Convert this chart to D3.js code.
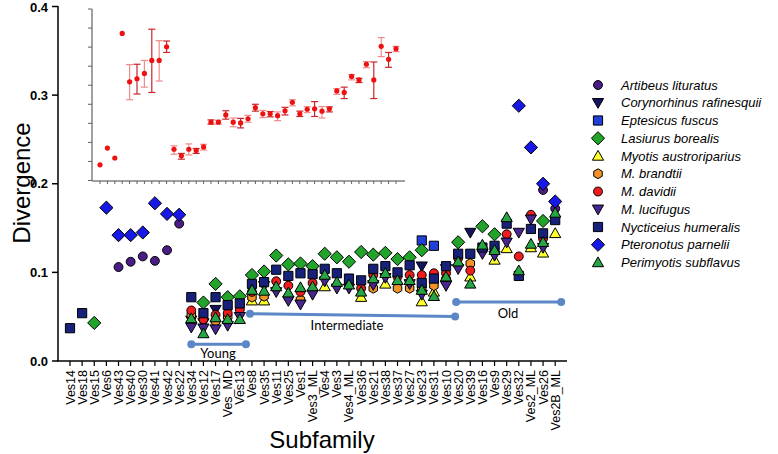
<!DOCTYPE html>
<html><head><meta charset="utf-8">
<script src="https://cdn.jsdelivr.net/npm/d3@7"></script>
<style>body{margin:0;background:#fff}svg{display:block}</style>
</head><body>
<svg id="c" width="778" height="454"></svg>
<script>
const _ = null;
const categories = ["Ves14","Ves18","Ves15","Ves6","Ves43","Ves40","Ves30","Ves41","Ves42","Ves22","Ves34","Ves12","Ves17","Ves_MD","Ves13","Ves8","Ves35","Ves11","Ves25","Ves1","Ves3_ML","Ves4","Ves3","Ves4_ML","Ves36","Ves21","Ves38","Ves37","Ves27","Ves23","Ves31","Ves10","Ves20","Ves39","Ves16","Ves9","Ves29","Ves32","Ves2_ML","Ves26","Ves2B_ML"];
//                 0   1   2   3   4     5     6     7     8     9     10    11    12    13    14    15    16    17    18    19    20    21    22    23    24    25    26    27    28    29    30    31    32    33    34    35    36    37    38    39    40
const artibeus   = [_,  _,  _,  _,  0.106,0.112,0.118,0.113,0.125,0.155,_,    _,    _,    _,    _,    _,    _,    _,    _,    _,    _,    _,    _,    _,    _,    _,    _,    _,    _,    _,    _,    _,    _,    _,    _,    _,    _,    _,    _,    0.193,0.172];
const corynorhinus=[_,  _,  _,  _,  _,    _,    _,    _,    _,    _,    0.046,0.043,0.058,_,    _,    _,    _,    _,    _,    _,    _,    _,    _,    _,    _,    _,    _,    _,    _,    0.107,_,    0.104,_,    0.145,_,    _,    _,    _,    _,    _,    _];
const eptesicus  = [_,  _,  _,  _,  _,    _,    _,    _,    _,    _,    _,    _,    _,    _,    _,    _,    _,    _,    _,    _,    _,    _,    _,    _,    _,    _,    _,    _,    _,    0.136,0.130,_,    _,    _,    _,    _,    _,    _,    _,    _,    _];
const lasiurus   = [_,  _,  0.043,_,_,    _,    _,    _,    _,    _,    _,    0.066,0.087,0.072,0.073,0.097,0.101,0.119,0.109,0.110,0.107,0.121,0.117,0.112,0.123,0.120,0.122,0.115,0.117,0.125,_,    _,    0.134,_,    0.152,0.143,_,    _,    _,    0.158,_];
const myotisA    = [_,  _,  _,  _,  _,    _,    _,    _,    _,    _,    _,    _,    _,    _,    _,    0.068,0.068,_,    _,    _,    _,    0.084,_,    _,    0.072,_,    0.087,_,    _,    0.067,0.078,_,    _,    0.095,_,    0.114,0.127,_,    0.128,0.122,0.144];
const brandtii   = [_,  _,  _,  _,  _,    _,    _,    _,    _,    _,    0.052,_,    0.045,0.050,_,    0.072,0.073,_,    0.072,0.069,_,    _,    _,    _,    _,    0.082,_,    0.082,0.082,0.082,0.085,0.092,_,    0.110,_,    _,    _,    _,    _,    _,    _];
const davidii    = [_,  _,  _,  _,  _,    _,    _,    _,    _,    _,    0.057,0.047,0.052,0.054,0.058,0.078,_,    0.090,0.085,0.078,0.088,_,    _,    0.088,0.082,0.097,_,    0.095,0.097,0.097,0.099,0.099,0.116,0.102,0.125,0.127,0.143,0.118,0.165,0.138,_];
const lucifugus  = [_,  _,  _,  _,  _,    _,    _,    _,    _,    _,    0.038,0.037,0.036,0.040,0.050,_,    0.085,0.078,0.068,0.064,0.075,0.090,0.082,0.082,_,    0.086,0.094,_,    0.087,0.075,_,    0.085,0.104,_,    0.121,0.119,0.134,0.145,0.160,0.128,_];
const nycticeius = [0.037,0.054,_,_,_,    _,    _,    _,    _,    _,    0.072,0.054,0.072,0.063,0.065,0.087,0.089,0.103,0.096,0.099,0.098,0.104,0.099,0.093,0.091,0.104,0.107,0.100,0.108,0.088,0.093,0.107,0.121,0.121,0.128,0.130,0.155,0.096,0.149,0.144,0.159];
const pteronotus = [_,  _,  _,  0.173,0.142,0.142,0.145,0.178,0.166,0.165,_,    _,    _,    _,    _,    _,    _,    _,    _,    _,    _,    _,    _,    _,    _,    _,    _,    _,    _,    _,    _,    _,    _,    _,    _,    _,    _,    0.288,0.241,0.200,0.180];
const perimyotis = [_,  _,  _,  _,  _,    _,    _,    _,    _,    _,    0.048,0.031,0.049,0.047,0.047,0.080,0.079,0.084,0.077,0.083,0.084,0.097,0.089,0.086,0.078,0.093,0.099,0.091,0.091,0.080,0.073,0.095,0.112,0.087,0.131,0.125,0.162,0.102,0.132,0.134,0.167];

const speciesNames = ["Artibeus lituratus","Corynorhinus rafinesquii","Eptesicus fuscus","Lasiurus borealis","Myotis austroriparius","M. brandtii","M. davidii","M. lucifugus","Nycticeius humeralis","Pteronotus parnelii","Perimyotis subflavus"];
const speciesValues = [artibeus,corynorhinus,eptesicus,lasiurus,myotisA,brandtii,davidii,lucifugus,nycticeius,pteronotus,perimyotis];
const speciesShapes = ["circle","down","square","diamond","up","hexagon","circle","down","square","diamond","up"];
const speciesColors = ["#4a1d86","#14145e","#1f3fd8","#22a329","#ffff2e","#f39428","#ee1c1c","#47268f","#17207a","#1818e6","#27a545"];

const yTicks = [0.0,0.1,0.2,0.3,0.4];
const yTickLabels = ["0.0","0.1","0.2","0.3","0.4"];

// inset (relative ordering per subfamily)
const insetValues = [0.041,0.085,0.059,0.386,0.259,0.267,0.281,0.315,0.315,0.351,0.082,0.065,0.082,0.079,0.088,0.153,0.153,0.172,0.153,0.151,0.162,0.191,0.175,0.175,0.170,0.183,0.205,0.175,0.187,0.188,0.182,0.188,0.235,0.231,0.273,0.264,0.305,0.264,0.352,0.318,0.346];
const insetLow    = [_,    _,    _,    _,    0.212,0.227,0.245,0.231,0.261,0.336,0.069,0.056,0.067,0.071,0.080,0.148,0.148,0.161,0.141,0.138,0.153,0.182,0.165,0.167,0.157,0.172,0.196,0.168,0.178,0.168,0.164,0.180,0.226,0.215,0.264,0.257,0.296,0.215,0.325,0.297,0.338];
const insetHigh   = [_,    _,    _,    _,    0.304,0.305,0.315,0.397,0.367,0.366,0.091,0.071,0.096,0.084,0.095,0.159,0.158,0.183,0.164,0.163,0.171,0.200,0.184,0.181,0.180,0.192,0.212,0.182,0.194,0.207,0.194,0.193,0.241,0.245,0.278,0.268,0.312,0.311,0.375,0.336,0.352];
const insetTicks = [0,0.05,0.1,0.15,0.2,0.25,0.3,0.35,0.4,0.45];

const groupNames = ["Young","Intermediate","Old"];
const groupStart = ["Ves34","Ves8","Ves20"];
const groupEnd   = ["Ves8","Ves20","Ves2B_ML"];

const svg = d3.select("#c");
svg.append("rect").attr("width",778).attr("height",454).attr("fill","#fff");

const x = d3.scalePoint().domain(categories).range([70,555.2]);
const y = d3.scaleLinear().domain([0,0.4]).range([361,6.5]);
const FONT = "'Liberation Sans', Arial, sans-serif";

// ---------- inset ----------
const ix = d3.scalePoint().domain(categories).range([100,396]);
const iy = d3.scaleLinear().domain([0,0.45]).range([180.5,9]);
const inset = svg.append("g");
inset.append("line").attr("x1",92).attr("x2",92).attr("y1",iy(0.45)).attr("y2",181)
  .attr("stroke","#808080").attr("stroke-width",1.5);
inset.append("line").attr("x1",92).attr("x2",405).attr("y1",181).attr("y2",181)
  .attr("stroke","#808080").attr("stroke-width",1.5);
insetTicks.forEach(t=>{
  inset.append("line").attr("x1",88).attr("x2",92).attr("y1",iy(t)).attr("y2",iy(t)).attr("stroke","#606060").attr("stroke-width",1);
});
categories.forEach(c=>{
  inset.append("line").attr("x1",ix(c)).attr("x2",ix(c)).attr("y1",181).attr("y2",184).attr("stroke","#606060").attr("stroke-width",1);
});
categories.forEach((c,i)=>{
  if(insetLow[i]==null) return;
  const col = i%2===0 ? "#f08a8a" : "#c8262b";
  const g = inset.append("g").attr("stroke",col).attr("stroke-width",1.2);
  g.append("line").attr("x1",ix(c)).attr("x2",ix(c)).attr("y1",iy(insetLow[i])).attr("y2",iy(insetHigh[i]));
  g.append("line").attr("x1",ix(c)-3.5).attr("x2",ix(c)+3.5).attr("y1",iy(insetLow[i])).attr("y2",iy(insetLow[i]));
  g.append("line").attr("x1",ix(c)-3.5).attr("x2",ix(c)+3.5).attr("y1",iy(insetHigh[i])).attr("y2",iy(insetHigh[i]));
});
categories.forEach((c,i)=>{
  inset.append("circle").attr("cx",ix(c)).attr("cy",iy(insetValues[i])).attr("r",2.6).attr("fill","#ee1111");
});

// ---------- axes ----------
svg.append("line").attr("x1",58).attr("x2",58).attr("y1",6).attr("y2",361).attr("stroke","#000").attr("stroke-width",1.5);
svg.append("line").attr("x1",57).attr("x2",567).attr("y1",361).attr("y2",361).attr("stroke","#000").attr("stroke-width",1.5);
yTicks.forEach((t,i)=>{
  svg.append("line").attr("x1",52).attr("x2",58).attr("y1",y(t)).attr("y2",y(t)).attr("stroke","#000").attr("stroke-width",1.5);
  svg.append("text").attr("x",48).attr("y",Math.max(y(t)+4.5,12)).attr("text-anchor","end")
    .attr("font-family",FONT).attr("font-weight","bold").attr("font-size",13).text(yTickLabels[i]);
});
categories.forEach(c=>{
  svg.append("line").attr("x1",x(c)).attr("x2",x(c)).attr("y1",361).attr("y2",366).attr("stroke","#000").attr("stroke-width",1.2);
  svg.append("text").attr("transform",`translate(${x(c)+4.5},370) rotate(-90)`).attr("text-anchor","end")
    .attr("font-family",FONT).attr("font-size",12.5).text(c);
});
svg.append("text").attr("transform","translate(30,183) rotate(-90)").attr("text-anchor","middle")
  .attr("font-family",FONT).attr("font-size",24).text("Divergence");
svg.append("text").attr("x",322).attr("y",448).attr("text-anchor","middle")
  .attr("font-family",FONT).attr("font-size",24).text("Subfamily");

// ---------- group lines ----------
const groupY1 = [344.3, 313.7, 302];
const groupY2 = [344.3, 316.5, 302];
const lblX = [218, 347, 508];
const lblY = [358, 330, 318];
groupNames.forEach((n,i)=>{
  const x2 = i===0 ? x(groupEnd[i])-6 : (i===1? x(groupEnd[i])-3 : x(groupEnd[i])+6);
  const xs = i===0 ? x(groupStart[i]) : x(groupStart[i])-2;
  const g = svg.append("g");
  g.append("line").attr("x1",xs).attr("x2",x2).attr("y1",groupY1[i]).attr("y2",groupY2[i]).attr("stroke","#5b87c6").attr("stroke-width",3);
  g.append("circle").attr("cx",xs).attr("cy",groupY1[i]).attr("r",4).attr("fill","#5b87c6");
  g.append("circle").attr("cx",x2).attr("cy",groupY2[i]).attr("r",4).attr("fill","#5b87c6");
  svg.append("text").attr("x",lblX[i]).attr("y",lblY[i]).attr("text-anchor","middle")
    .attr("font-family","Lato, 'Open Sans', sans-serif").attr("font-size",13).text(n);
});

// ---------- markers ----------
function shapePath(shape){
  switch(shape){
    case "circle": return d3.symbol(d3.symbolCircle,62)();
    case "square": return "M-4.6,-4.6H4.6V4.6H-4.6Z";
    case "diamond": return "M0,-6.6L6.6,0L0,6.6L-6.6,0Z";
    case "up": return "M0,-5.6L5.6,4.2L-5.6,4.2Z";
    case "down": return "M0,5.6L5.6,-4.2L-5.6,-4.2Z";
    case "hexagon": {
      const r=4.9; const pts=d3.range(6).map(k=>{const a=Math.PI/6+k*Math.PI/3;return [r*Math.cos(a),r*Math.sin(a)];});
      return "M"+pts.map(p=>p.join(",")).join("L")+"Z";
    }
  }
}
const marks = svg.append("g");
speciesValues.forEach((vals,s)=>{
  const pts = categories.map((c,i)=>({c,v:vals[i]})).filter(d=>d.v!=null);
  marks.selectAll(null).data(pts).enter().append("path")
    .attr("transform",d=>`translate(${x(d.c)},${y(d.v)})`)
    .attr("d",shapePath(speciesShapes[s]))
    .attr("fill",speciesColors[s]).attr("stroke","#000").attr("stroke-width",1);
});

// ---------- legend ----------
const legend = svg.append("g");
speciesNames.forEach((n,i)=>{
  const ly = 85 + i*17.75;
  legend.append("path").attr("transform",`translate(598,${ly})`).attr("d",shapePath(speciesShapes[i]))
    .attr("fill",speciesColors[i]).attr("stroke","#000").attr("stroke-width",1);
  legend.append("text").attr("x",621).attr("y",ly+4.5).attr("font-family",FONT).attr("font-style","italic")
    .attr("font-size",13).text(n);
});
</script>
</body></html>
